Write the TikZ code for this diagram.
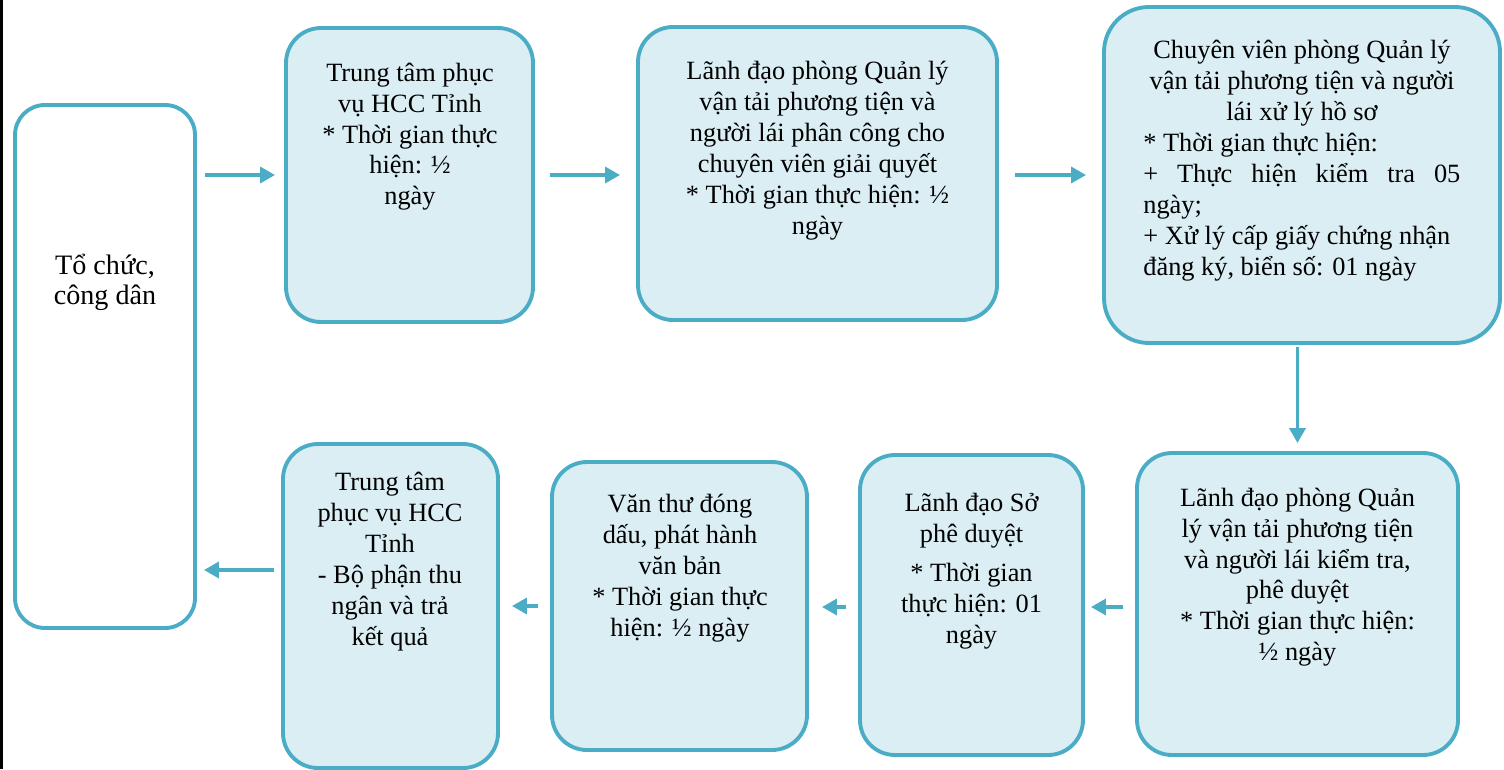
\documentclass[tikz,border=0pt]{standalone}
\usepackage{fontspec}
\setmainfont{Liberation Serif}
\usetikzlibrary{arrows.meta}

\definecolor{boxline}{HTML}{4BACC6}
\definecolor{boxfill}{HTML}{DBEEF4}

\tikzset{
  stepbox/.style={draw=boxline, fill=boxfill, line width=2.2pt, rounded corners=0.7cm},
  flow/.style={draw=boxline, line width=2.2pt, -{Triangle[length=8.5pt,width=9pt]}},
  txt/.style={align=center, inner sep=0pt, anchor=north, font=\fontsize{15}{17.6}\selectfont}
}

\begin{document}
\begin{tikzpicture}

      \useasboundingbox (0,0) rectangle (30.08,-15.38);
      \fill[black] (0,0) rectangle (0.06,-15.38);

      % frames
      \begin{scope}[every node/.style={stepbox}]
        \node[fill=white, rounded corners=0.6cm, minimum width=3.6cm, minimum height=10.46cm] (org) at (2.1,-7.33) {};
        \node[minimum width=4.94cm, minimum height=5.88cm] (b1) at (8.19,-3.5) {};
        \node[minimum width=7.18cm, minimum height=5.86cm] (b2) at (16.35,-3.47) {};
        \node[rounded corners=0.9cm, minimum width=7.92cm, minimum height=6.72cm] (b3) at (26.04,-3.5) {};
        \node[minimum width=6.42cm, minimum height=6.04cm] (b4) at (25.95,-12.08) {};
        \node[minimum width=4.46cm, minimum height=6.0cm] (b5) at (19.43,-12.1) {};
        \node[minimum width=5.1cm, minimum height=5.76cm] (b6) at (13.59,-12.12) {};
        \node[minimum width=4.3cm, minimum height=6.48cm] (b7) at (7.81,-12.12) {};
      \end{scope}

      % texts
      \node[txt, font=\fontsize{16}{17.2}\selectfont] (orgtxt) at (2.1,-5.08) {Tổ chức,\\công dân};
      \node[txt] (b1txt) at (8.2,-1.25) {Trung tâm phục\\vụ HCC Tỉnh\\* Thời gian thực\\hiện: ½\\ngày};
      \node[txt] (b2txt) at (16.35,-1.22) {Lãnh đạo phòng Quản lý\\vận tải phương tiện và\\người lái phân công cho\\chuyên viên giải quyết\\* Thời gian thực hiện: ½\\ngày};
      \node[txt] (b3head) at (26.04,-0.8) {Chuyên viên phòng Quản lý\\vận tải phương tiện và người\\lái xử lý hồ sơ};
      \node[txt, align=left, anchor=north west] (b3time) at (22.86,-2.66) {* Thời gian thực hiện:\\\makebox[6.34cm][s]{+ Thực hiện kiểm tra 05}\\ngày;\\+ Xử lý cấp giấy chứng nhận\\đăng ký, biển số: 01 ngày};
      \node[txt] (b4txt) at (25.95,-9.75) {Lãnh đạo phòng Quản\\lý vận tải phương tiện\\và người lái kiểm tra,\\phê duyệt\\* Thời gian thực hiện:\\½ ngày};
      \node[txt] (b5txt) at (19.43,-9.86) {Lãnh đạo Sở\\phê duyệt\\[4.5pt]* Thời gian\\thực hiện: 01\\ngày};
      \node[txt] (b6txt) at (13.6,-9.88) {Văn thư đóng\\dấu, phát hành\\văn bản\\* Thời gian thực\\hiện: ½ ngày};
      \node[txt] (b7txt) at (7.8,-9.44) {Trung tâm\\phục vụ HCC\\Tỉnh\\- Bộ phận thu\\ngân và trả\\kết quả};

      % connectors
      \draw[flow, shorten <=0.16cm, shorten >=0.18cm] (org.east |- b1.west) -- (b1.west);
      \draw[flow, shorten <=0.3cm, shorten >=0.32cm] (b1.east) -- (b1.east -| b2.west);
      \draw[flow, shorten <=0.32cm, shorten >=0.32cm] (b2.east |- b3.west) -- (b3.west);
      \draw[flow, shorten <=0.04cm, shorten >=0.16cm] (b3.south -| b4.north) -- (b4.north);
      \draw[flow, shorten <=0.24cm, shorten >=0.12cm] ([yshift=-0.06cm]b4.west) -- ([yshift=-0.06cm]b4.west -| b5.east);
      \draw[flow, shorten <=0.24cm, shorten >=0.26cm] ([yshift=-0.04cm]b5.west) -- ([yshift=-0.04cm]b5.west -| b6.east);
      \draw[flow, shorten <=0.24cm, shorten >=0.24cm] (b6.west) -- (b6.west -| b7.east);
      \draw[flow, shorten <=0.14cm, shorten >=0.14cm] ([yshift=0.72cm]b7.west) -- ([yshift=0.72cm]b7.west -| org.east);

    \end{tikzpicture}
\end{document}
